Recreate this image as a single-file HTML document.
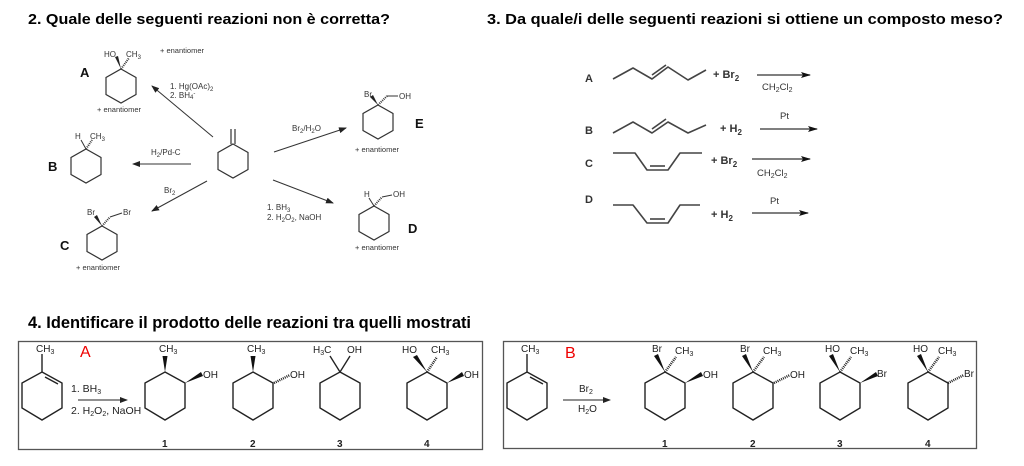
<!DOCTYPE html>
<html><head><meta charset="utf-8"><style>
html,body{margin:0;padding:0;background:#fff}
svg{display:block}
.t{font-family:"Liberation Sans",Arial,sans-serif;font-weight:bold;fill:#000}
</style></head><body>
<svg width="1024" height="466" viewBox="0 0 1024 466" xmlns="http://www.w3.org/2000/svg">
<defs>
<polygon id="h2" points="0,-17 15,-8.5 15,8.5 0,17 -15,8.5 -15,-8.5" fill="none" stroke="#333" stroke-width="1.2"/>
<polygon id="h4" points="0,-24 20,-13 20,12 0,24 -20,12 -20,-13" fill="none" stroke="#222" stroke-width="1.4"/>
<marker id="ar" markerWidth="8" markerHeight="6" refX="7" refY="3" orient="auto" markerUnits="userSpaceOnUse"><path d="M0,0 L8,3 L0,6 Z" fill="#222"/></marker>
<marker id="ar2" markerWidth="10" markerHeight="6" refX="9" refY="3" orient="auto" markerUnits="userSpaceOnUse"><path d="M0,0 L10,3 L0,6 L2,3 Z" fill="#111"/></marker>
</defs>

<text class="t" x="28" y="24" font-size="15" textLength="362" lengthAdjust="spacingAndGlyphs">2. Quale delle seguenti reazioni non è corretta?</text>
<text class="t" x="487" y="24" font-size="15" textLength="516" lengthAdjust="spacingAndGlyphs">3. Da quale/i delle seguenti reazioni si ottiene un composto meso?</text>
<text class="t" x="28" y="328" font-size="17" textLength="443" lengthAdjust="spacingAndGlyphs">4. Identificare il prodotto delle reazioni tra quelli mostrati</text>

<g font-family="Liberation Sans,Arial,sans-serif" fill="#333">
<use href="#h2" x="233" y="161"/>
<line x1="231" y1="144" x2="231" y2="129" stroke="#333" stroke-width="1.2"/>
<line x1="235" y1="144" x2="235" y2="129" stroke="#333" stroke-width="1.2"/>
<use href="#h2" x="121" y="86"/>
<polygon points="121,69 115,57 118,56" fill="#222"/>
<line x1="121" y1="69" x2="129" y2="58" stroke="#333" stroke-width="2" stroke-dasharray="1 1"/>
<text x="104" y="57" font-size="8">HO</text><text x="126" y="57" font-size="8">CH<tspan font-size="6" dy="2">3</tspan></text>
<text x="80" y="77" font-size="13" font-weight="bold" fill="#111">A</text>
<text x="160" y="53" font-size="7.5">+ enantiomer</text>
<text x="97" y="112" font-size="7.5">+ enantiomer</text>
<line x1="213" y1="137" x2="152" y2="86" stroke="#333" stroke-width="1" marker-end="url(#ar)"/>
<text x="170" y="89" font-size="8">1. Hg(OAc)<tspan font-size="6" dy="2">2</tspan></text>
<text x="170" y="98" font-size="8">2. BH<tspan font-size="6" dy="1">4</tspan><tspan font-size="6" dy="-4">-</tspan></text>
<use href="#h2" x="86" y="166"/>
<line x1="86" y1="149" x2="81" y2="140" stroke="#333" stroke-width="1"/>
<line x1="86" y1="149" x2="92" y2="140" stroke="#333" stroke-width="2" stroke-dasharray="1 1"/>
<text x="75" y="139" font-size="8">H</text><text x="90" y="139" font-size="8">CH<tspan font-size="6" dy="2">3</tspan></text>
<text x="48" y="171" font-size="13" font-weight="bold" fill="#111">B</text>
<line x1="191" y1="164" x2="133" y2="164" stroke="#333" stroke-width="1" marker-end="url(#ar)"/>
<text x="151" y="155" font-size="8">H<tspan font-size="6" dy="2">2</tspan><tspan dy="-2">/Pd-C</tspan></text>
<use href="#h2" x="102" y="243"/>
<polygon points="102,226 94,217 97,215" fill="#222"/>
<line x1="102" y1="226" x2="110" y2="217" stroke="#333" stroke-width="2" stroke-dasharray="1 1"/>
<line x1="110" y1="217" x2="122" y2="213" stroke="#333" stroke-width="1"/>
<text x="87" y="215" font-size="8">Br</text><text x="123" y="215" font-size="8">Br</text>
<text x="60" y="250" font-size="13" font-weight="bold" fill="#111">C</text>
<text x="76" y="270" font-size="7.5">+ enantiomer</text>
<line x1="207" y1="181" x2="152" y2="211" stroke="#333" stroke-width="1" marker-end="url(#ar)"/>
<text x="164" y="193" font-size="8">Br<tspan font-size="6" dy="2">2</tspan></text>
<use href="#h2" x="378" y="122"/>
<polygon points="378,105 370,97 373,95" fill="#222"/>
<line x1="378" y1="105" x2="387" y2="96" stroke="#333" stroke-width="2" stroke-dasharray="1 1"/>
<line x1="387" y1="96" x2="398" y2="96" stroke="#333" stroke-width="1"/>
<text x="364" y="97" font-size="8">Br</text><text x="399" y="99" font-size="8">OH</text>
<text x="415" y="128" font-size="13" font-weight="bold" fill="#111">E</text>
<text x="355" y="152" font-size="7.5">+ enantiomer</text>
<line x1="274" y1="152" x2="346" y2="128" stroke="#333" stroke-width="1" marker-end="url(#ar)"/>
<text x="292" y="131" font-size="8">Br<tspan font-size="6" dy="2">2</tspan><tspan dy="-2">/H</tspan><tspan font-size="6" dy="2">2</tspan><tspan dy="-2">O</tspan></text>
<use href="#h2" x="374" y="223"/>
<line x1="374" y1="206" x2="369" y2="198" stroke="#333" stroke-width="1"/>
<line x1="374" y1="206" x2="382" y2="197" stroke="#333" stroke-width="2" stroke-dasharray="1 1"/>
<line x1="382" y1="197" x2="392" y2="195" stroke="#333" stroke-width="1"/>
<text x="364" y="197" font-size="8">H</text><text x="393" y="197" font-size="8">OH</text>
<text x="408" y="233" font-size="13" font-weight="bold" fill="#111">D</text>
<text x="355" y="250" font-size="7.5">+ enantiomer</text>
<line x1="273" y1="180" x2="333" y2="203" stroke="#333" stroke-width="1" marker-end="url(#ar)"/>
<text x="267" y="210" font-size="8">1. BH<tspan font-size="6" dy="2">3</tspan></text>
<text x="267" y="220" font-size="8">2. H<tspan font-size="6" dy="2">2</tspan><tspan dy="-2">O</tspan><tspan font-size="6" dy="2">2</tspan><tspan dy="-2">, NaOH</tspan></text>
</g>

<g font-family="Liberation Sans,Arial,sans-serif" font-weight="bold" fill="#333" stroke-linejoin="round">
<text x="585" y="82" font-size="11">A</text>
<polyline points="613,79 633,68 652,79 668,67 688,80 706,70" fill="none" stroke="#444" stroke-width="1.6"/>
<line x1="652" y1="75" x2="666" y2="65" stroke="#444" stroke-width="1.6"/>
<text x="713" y="78" font-size="11">+ Br<tspan font-size="8" dy="3">2</tspan></text>
<line x1="757" y1="75" x2="810" y2="75" stroke="#333" stroke-width="1.2" marker-end="url(#ar2)"/>
<text x="762" y="90" font-size="9.5" font-weight="normal">CH<tspan font-size="7" dy="2">2</tspan><tspan dy="-2">Cl</tspan><tspan font-size="7" dy="2">2</tspan></text>
<text x="585" y="134" font-size="11">B</text>
<polyline points="613,133 633,122 652,133 668,122 688,133 706,125" fill="none" stroke="#444" stroke-width="1.6"/>
<line x1="652" y1="129" x2="666" y2="119" stroke="#444" stroke-width="1.6"/>
<text x="720" y="132" font-size="11">+ H<tspan font-size="8" dy="3">2</tspan></text>
<line x1="760" y1="129" x2="817" y2="129" stroke="#333" stroke-width="1.2" marker-end="url(#ar2)"/>
<text x="780" y="119" font-size="9.5" font-weight="normal">Pt</text>
<text x="585" y="167" font-size="11">C</text>
<polyline points="613,153 635,153 647,170 668,170 680,153 702,153" fill="none" stroke="#444" stroke-width="1.6"/>
<line x1="650" y1="166" x2="665" y2="166" stroke="#444" stroke-width="1.6"/>
<text x="711" y="164" font-size="11">+ Br<tspan font-size="8" dy="3">2</tspan></text>
<line x1="752" y1="159" x2="810" y2="159" stroke="#333" stroke-width="1.2" marker-end="url(#ar2)"/>
<text x="757" y="176" font-size="9.5" font-weight="normal">CH<tspan font-size="7" dy="2">2</tspan><tspan dy="-2">Cl</tspan><tspan font-size="7" dy="2">2</tspan></text>
<text x="585" y="203" font-size="11">D</text>
<polyline points="613,205 633,205 647,223 668,223 680,205 700,205" fill="none" stroke="#444" stroke-width="1.6"/>
<line x1="650" y1="219" x2="665" y2="219" stroke="#444" stroke-width="1.6"/>
<text x="711" y="218" font-size="11">+ H<tspan font-size="8" dy="3">2</tspan></text>
<line x1="752" y1="213" x2="808" y2="213" stroke="#333" stroke-width="1.2" marker-end="url(#ar2)"/>
<text x="770" y="204" font-size="9.5" font-weight="normal">Pt</text>
</g>

<g font-family="Liberation Sans,Arial,sans-serif" fill="#222" font-size="11">
<rect x="18.5" y="341.5" width="464" height="108" fill="none" stroke="#555" stroke-width="1.3"/>
<use href="#h4" x="42" y="396"/>
<line x1="42" y1="372" x2="42" y2="354" stroke="#222" stroke-width="1.4"/>
<line x1="45" y1="377" x2="58" y2="384" stroke="#222" stroke-width="1.4"/>
<text x="36" y="352" font-size="10">CH<tspan font-size="7" dy="2">3</tspan></text>
<text x="80" y="357" font-size="16" fill="#e00">A</text>
<text x="71" y="392" font-size="10.5">1. BH<tspan font-size="7" dy="2">3</tspan></text>
<line x1="78" y1="400" x2="127" y2="400" stroke="#222" stroke-width="1" marker-end="url(#ar)"/>
<text x="71" y="414" font-size="10.5">2. H<tspan font-size="7" dy="2">2</tspan><tspan dy="-2">O</tspan><tspan font-size="7" dy="2">2</tspan><tspan dy="-2">, NaOH</tspan></text>
<use href="#h4" x="165" y="396"/>
<polygon points="165,372 162.5,356 167.5,356" fill="#111"/>
<text x="159" y="352" font-size="10">CH<tspan font-size="7" dy="2">3</tspan></text>
<polygon points="185,383 201,372 203,376" fill="#111"/>
<text x="203" y="378" font-size="10">OH</text>
<text x="162" y="447" font-size="10" font-weight="bold">1</text>
<use href="#h4" x="253" y="396"/>
<polygon points="253,372 250.5,356 255.5,356" fill="#111"/>
<text x="247" y="352" font-size="10">CH<tspan font-size="7" dy="2">3</tspan></text>
<line x1="274" y1="383" x2="290" y2="375" stroke="#222" stroke-width="2.5" stroke-dasharray="1 1"/>
<text x="290" y="378" font-size="10">OH</text>
<text x="250" y="447" font-size="10" font-weight="bold">2</text>
<use href="#h4" x="340" y="396"/>
<line x1="340" y1="372" x2="330" y2="356" stroke="#222" stroke-width="1.4"/>
<line x1="340" y1="372" x2="350" y2="356" stroke="#222" stroke-width="1.4"/>
<text x="313" y="353" font-size="10">H<tspan font-size="7" dy="2">3</tspan><tspan dy="-2">C</tspan></text>
<text x="347" y="353" font-size="10">OH</text>
<text x="337" y="447" font-size="10" font-weight="bold">3</text>
<use href="#h4" x="427" y="396"/>
<polygon points="427,372 413,357 417,355" fill="#111"/>
<line x1="427" y1="372" x2="437" y2="357" stroke="#222" stroke-width="2.5" stroke-dasharray="1 1"/>
<text x="402" y="353" font-size="10">HO</text>
<text x="431" y="353" font-size="10">CH<tspan font-size="7" dy="2">3</tspan></text>
<polygon points="447,383 462,372 464,376" fill="#111"/>
<text x="464" y="378" font-size="10">OH</text>
<text x="424" y="447" font-size="10" font-weight="bold">4</text>
</g>

<g font-family="Liberation Sans,Arial,sans-serif" fill="#222" font-size="11">
<rect x="503.5" y="341.5" width="473" height="107" fill="none" stroke="#555" stroke-width="1.3"/>
<use href="#h4" x="527" y="396"/>
<line x1="527" y1="372" x2="527" y2="354" stroke="#222" stroke-width="1.4"/>
<line x1="530" y1="377" x2="543" y2="384" stroke="#222" stroke-width="1.4"/>
<text x="521" y="352" font-size="10">CH<tspan font-size="7" dy="2">3</tspan></text>
<text x="565" y="358" font-size="16" fill="#e00">B</text>
<text x="579" y="392" font-size="10">Br<tspan font-size="7" dy="2">2</tspan></text>
<line x1="563" y1="400" x2="610" y2="400" stroke="#222" stroke-width="1" marker-end="url(#ar)"/>
<text x="578" y="412" font-size="10">H<tspan font-size="7" dy="2">2</tspan><tspan dy="-2">O</tspan></text>
<use href="#h4" x="665" y="396"/>
<polygon points="665,372 654,356 658,354" fill="#111"/>
<line x1="665" y1="372" x2="676" y2="357" stroke="#222" stroke-width="2.5" stroke-dasharray="1 1"/>
<text x="652" y="352" font-size="10">Br</text>
<text x="675" y="354" font-size="10">CH<tspan font-size="7" dy="2">3</tspan></text>
<polygon points="685,383 701,372 703,376" fill="#111"/>
<text x="703" y="378" font-size="10">OH</text>
<text x="662" y="447" font-size="10" font-weight="bold">1</text>
<use href="#h4" x="753" y="396"/>
<polygon points="753,372 742,356 746,354" fill="#111"/>
<line x1="753" y1="372" x2="764" y2="357" stroke="#222" stroke-width="2.5" stroke-dasharray="1 1"/>
<text x="740" y="352" font-size="10">Br</text>
<text x="763" y="354" font-size="10">CH<tspan font-size="7" dy="2">3</tspan></text>
<line x1="774" y1="383" x2="790" y2="375" stroke="#222" stroke-width="2.5" stroke-dasharray="1 1"/>
<text x="790" y="378" font-size="10">OH</text>
<text x="750" y="447" font-size="10" font-weight="bold">2</text>
<use href="#h4" x="840" y="396"/>
<polygon points="840,372 829,356 833,354" fill="#111"/>
<line x1="840" y1="372" x2="851" y2="357" stroke="#222" stroke-width="2.5" stroke-dasharray="1 1"/>
<text x="825" y="352" font-size="10">HO</text>
<text x="850" y="354" font-size="10">CH<tspan font-size="7" dy="2">3</tspan></text>
<polygon points="860,383 876,372 878,376" fill="#111"/>
<text x="877" y="377" font-size="10">Br</text>
<text x="837" y="447" font-size="10" font-weight="bold">3</text>
<use href="#h4" x="928" y="396"/>
<polygon points="928,372 917,356 921,354" fill="#111"/>
<line x1="928" y1="372" x2="939" y2="357" stroke="#222" stroke-width="2.5" stroke-dasharray="1 1"/>
<text x="913" y="352" font-size="10">HO</text>
<text x="938" y="354" font-size="10">CH<tspan font-size="7" dy="2">3</tspan></text>
<line x1="948" y1="383" x2="964" y2="375" stroke="#222" stroke-width="2.5" stroke-dasharray="1 1"/>
<text x="964" y="377" font-size="10">Br</text>
<text x="925" y="447" font-size="10" font-weight="bold">4</text>
</g>
</svg>
</body></html>
